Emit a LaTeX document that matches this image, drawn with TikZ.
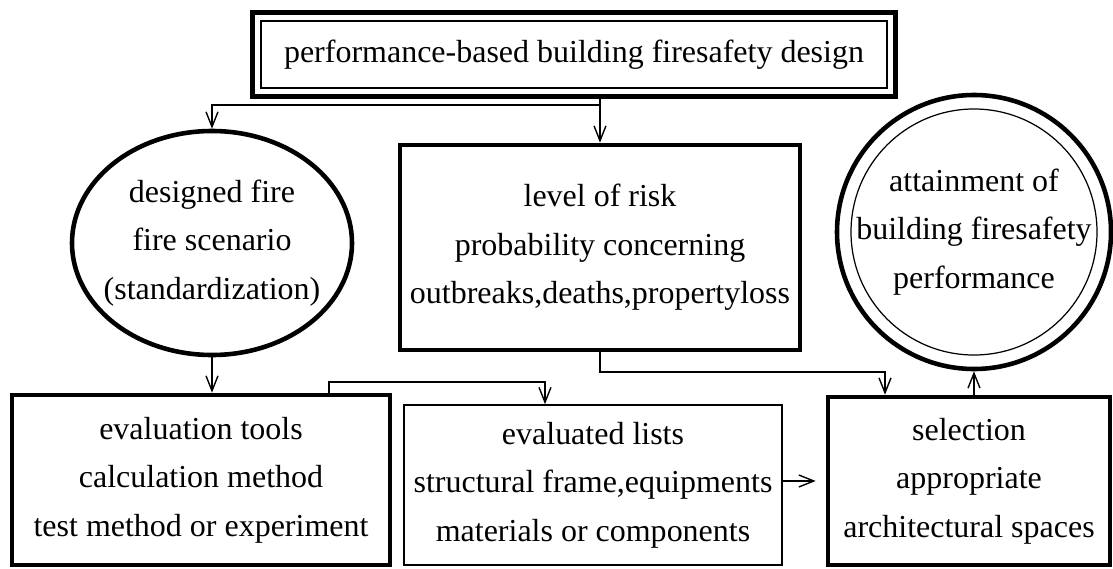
\documentclass[tikz,border=0pt]{standalone}
\usepackage{fontspec}
\setmainfont{Liberation Serif}
\usetikzlibrary{arrows.meta,shapes.geometric,fit}

\begin{document}
\begin{tikzpicture}[
    every node/.style={font=\fontsize{18.2}{27.5}\selectfont, align=center},
    heavy/.style={draw, line width=2.6pt, inner sep=0pt},
    light/.style={draw, line width=0.9pt, inner sep=0pt},
    link/.style={line width=0.8pt, -{Straight Barb[length=0.3cm, width=0.24cm]}}
  ]
    \useasboundingbox (0,0) rectangle (22.26,11.36);
    \node [light, minimum width=12.52cm, minimum height=1.34cm] (D) at (11.48,10.27) {performance-based building firesafety design};
    \node [heavy, fit=(D), inner sep=0.15cm] (O) {};
    \node [heavy, ellipse, minimum width=5.6cm, minimum height=4.48cm, inner sep=-0.3cm] (F) at (4.24,6.5) {designed fire\\fire scenario\\(standardization)};
    \node [heavy, minimum width=8cm, minimum height=4.1cm] (R) at (12,6.41) {level of risk\\probability concerning\\outbreaks,deaths,propertyloss};
    \node [heavy, circle, minimum size=5.48cm, inner sep=-0.3cm] (P) at (19.48,6.72) {attainment of\\building firesafety\\performance};
    \draw [line width=0.7pt] (P.center) circle (2.46);
    \node [heavy, minimum width=7.56cm, minimum height=3.4cm] (T) at (4.02,1.76) {evaluation tools\\calculation method\\test method or experiment};
    \node [light, minimum width=7.56cm, minimum height=3.2cm] (L) at (11.86,1.66) {evaluated lists\\structural frame,equipments\\materials or components};
    \node [heavy, minimum width=5.64cm, minimum height=3.36cm] (S) at (19.38,1.74) {selection\\appropriate\\architectural spaces};
    \coordinate (J) at (12,9.26);
    \coordinate (K) at (17.7,3.92);
    \coordinate (M) at (6.58,3.72);
    \coordinate (N) at (10.9,3.72);
    \draw [link] (O.south -| R.north) -- (R.north);
    \draw [link] (J) -| (F.north);
    \draw [link] (F.south) -- (F.south |- T.north);
    \draw [link] (M |- T.north) -- (M) -- (N) -- (N |- L.north);
    \draw [link] (R.south) |- (K) -- (K |- S.north);
    \draw [link, shorten >=0.2cm] (L.east |- S.west) -- (S.west);
    \draw [link] (P.south |- S.north) -- (P.south);
  \end{tikzpicture}
\end{document}
